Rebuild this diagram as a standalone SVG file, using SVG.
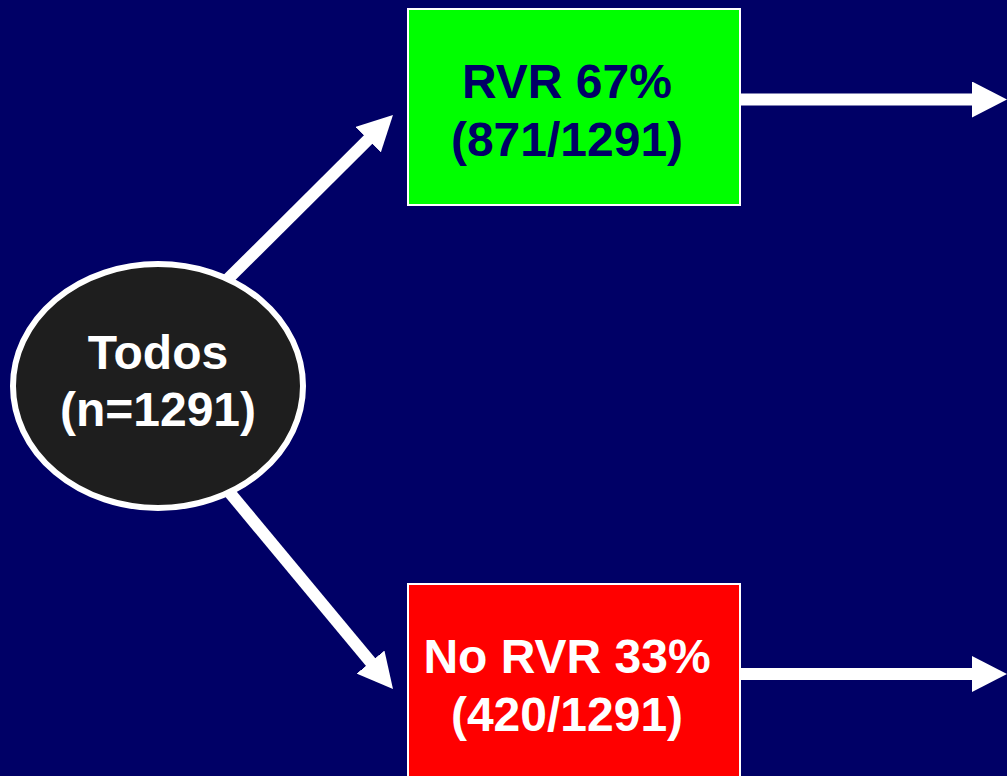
<svg xmlns="http://www.w3.org/2000/svg" width="1007" height="776" viewBox="0 0 1007 776">
<style>
.conn{stroke:#ffffff;stroke-width:12;fill:none;marker-end:url(#ah)}
.box{stroke:#ffffff;stroke-width:2}
.lbl{font-family:"Liberation Sans",Arial,sans-serif;font-weight:bold;font-size:48px;text-anchor:middle}
</style>
<defs>
<marker id="ah" markerUnits="userSpaceOnUse" viewBox="0 0 35 36" markerWidth="35" markerHeight="36" refX="5" refY="18" orient="auto">
<path d="M0,0 L35,18 L0,36 z" fill="#ffffff"/>
</marker>
</defs>
<rect width="1007" height="776" fill="#000066"/>
<g id="connectors">
<line class="conn" x1="215.8" y1="291.1" x2="371.7" y2="136.1"/>
<line class="conn" x1="217.2" y1="477.6" x2="373.8" y2="665.9"/>
<line class="conn" x1="735" y1="99.5" x2="977" y2="99.5"/>
<line class="conn" x1="735" y1="674" x2="977" y2="674"/>
</g>
<g id="todos">
<ellipse cx="158" cy="386" rx="145" ry="122" fill="#1e1e1e" stroke="#ffffff" stroke-width="6"/>
<text class="lbl" x="158" y="369" fill="#ffffff">Todos</text>
<text class="lbl" x="158" y="426" fill="#ffffff">(n=1291)</text>
</g>
<g id="rvr">
<rect class="box" x="408" y="9" width="332" height="196" fill="#00ff00"/>
<text class="lbl" x="567" y="98" fill="#000066">RVR 67%</text>
<text class="lbl" x="567" y="156" fill="#000066">(871/1291)</text>
</g>
<g id="norvr">
<rect class="box" x="408" y="584" width="332" height="200" fill="#ff0000"/>
<text class="lbl" x="567" y="673" fill="#ffffff">No RVR 33%</text>
<text class="lbl" x="567" y="731" fill="#ffffff">(420/1291)</text>
</g>
</svg>
